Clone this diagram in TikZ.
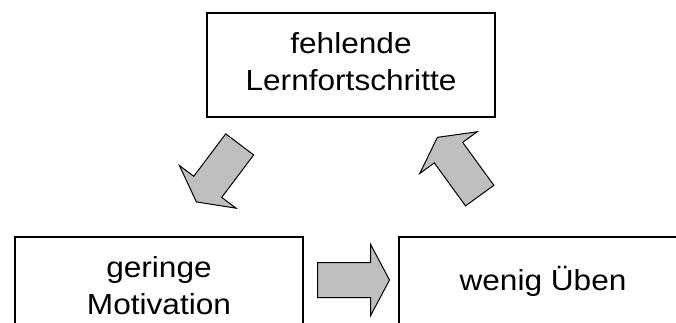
\documentclass[tikz,border=0pt]{standalone}
\usepackage{fontspec}
\setmainfont{Liberation Sans}
\usetikzlibrary{shapes.arrows}
\tikzset{kasten/.style={draw,line width=1.3pt,minimum width=264.2pt,minimum height=104pt,inner sep=0pt,align=center,xscale=1.09,transform shape,font=\fontsize{29}{37}\selectfont,text depth=8pt}}
\tikzset{pfeil/.style={draw,line width=1pt,fill=black!25,single arrow,minimum height=72pt,inner xsep=0pt,inner ysep=17pt,single arrow head extend=18pt,single arrow tip angle=124,anchor=tail}}

\begin{document}
\begin{tikzpicture}[x=1pt,y=1pt]
\useasboundingbox (0,0) rectangle (676,-322);
\clip (0,0) rectangle (676,-322);
\node[kasten] (lern) at (351,-65) {fehlende\\Lernfortschritte};
\node[kasten] (motiv) at (159,-289) {geringe\\Motivation};
\node[kasten,text depth=22pt] (ueben) at (543,-289) {wenig Üben};

\node[pfeil,rotate=233] (p1) at (240,-144) {};
\node[pfeil] (p2) at (317,-280) {};
\node[pfeil,rotate=126] (p3) at (480,-196) {};

\end{tikzpicture}
\end{document}
